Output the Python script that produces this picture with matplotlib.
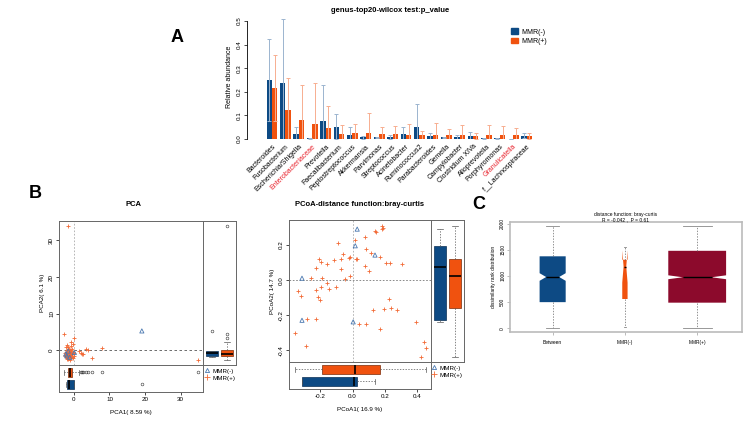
import numpy as np
import matplotlib
matplotlib.use("Agg")
import matplotlib.pyplot as plt
from matplotlib.lines import Line2D
from matplotlib.patches import Patch

plt.rcParams['font.family'] = ['Liberation Sans', 'DejaVu Sans']

W, H = 753, 424
BLUE = '#0d4a84'
ORANGE = '#f0520f'
CRIMSON = '#8c0a2c'
PT_BLUE = '#4a78b0'
PT_ORANGE = '#f26a36'

# ---- panel A data: genus mean and mean+sd (top of error bar) ----
genera = ['Bacteroides', 'Fusobacterium', 'Escherichia/Shigella', 'Enterobacteriaceae',
          'Prevotella', 'Faecalibacterium', 'Peptostreptococcus', 'Akkermansia',
          'Parvimonas', 'Streptococcus', 'Acinetobacter', 'Ruminococcus2',
          'Parabacteroides', 'Gemella', 'Campylobacter', 'Clostridium XIVa',
          'Alloprevotella', 'Porphyromonas', 'Granulicatella', 'f__Lachnospiraceae']
red_labels = ['Enterobacteriaceae', 'Granulicatella']
neg_mean = [0.251, 0.237, 0.023, 0.003, 0.075, 0.052, 0.017, 0.007, 0.007, 0.008,
            0.021, 0.052, 0.011, 0.007, 0.007, 0.014, 0.003, 0.004, 0.001, 0.014]
neg_upper = [0.424, 0.507, 0.052, 0.004, 0.227, 0.104, 0.049, 0.013, 0.010, 0.017,
             0.052, 0.148, 0.025, 0.010, 0.018, 0.031, 0.005, 0.006, 0.002, 0.025]
pos_mean = [0.215, 0.124, 0.079, 0.063, 0.048, 0.023, 0.027, 0.025, 0.021, 0.021,
            0.018, 0.015, 0.017, 0.017, 0.017, 0.013, 0.015, 0.015, 0.015, 0.013]
pos_upper = [0.355, 0.258, 0.228, 0.238, 0.139, 0.059, 0.063, 0.111, 0.052, 0.055,
             0.065, 0.034, 0.068, 0.044, 0.059, 0.025, 0.059, 0.056, 0.048, 0.025]

# ---- panel B PCA scores ----
pca_neg_x = [-2.3, -2.0, -1.6, -1.2, 0.1, 19.1]
pca_neg_y = [-1.0, -1.5, -0.2, -1.9, -0.6, 5.3]
pca_pos_x = [-1.6, -2.7, 0.1, -0.9, -1.9, 1.5, 1.9, 2.2, 2.6, 3.3, 4.0, 5.2, 7.9, 34.8,
             -2.6, -2.4, -2.3, -2.2, -2.1, -2.0, -2.0, -1.9, -1.9, -1.8, -1.8, -1.8,
             -1.7, -1.7, -1.6, -1.6, -1.5, -1.5, -1.4, -1.4, -1.3, -1.3, -1.2, -1.2,
             -1.1, -1.1, -1.0, -1.0, -0.9, -0.9, -0.8, -0.8, -0.7, -0.6, -0.5, -0.4,
             -0.3, -0.2, -0.1, 0.0, -2.5, -1.9, -1.4, -1.1, -0.6, -2.2]
pca_pos_y = [33.9, 4.4, 3.5, 2.4, 1.4, -0.3, -0.8, -0.9, -1.1, 0.3, 0.1, -2.2, 0.6, -2.6,
             -0.7, -1.2, 0.8, -0.4, -1.8, -2.3, -1.0, -0.9, 0.0, -1.5, 0.3, -2.0,
             -0.6, -1.3, 0.9, -2.4, -0.2, -1.7, -0.8, 0.5, -1.1, -2.1, -0.5, -1.6,
             0.1, -0.9, -2.5, -1.4, -0.3, 1.2, -1.9, -0.7, -1.2, 0.4, -1.0, -2.2,
             -0.5, 1.6, -1.5, -0.8, -1.6, -2.2, -1.9, -1.2, -1.7, -1.3]

# ---- panel B PCoA scores ----
pcoa_neg_x = [0.029, 0.017, 0.140, -0.315, -0.315, 0.004]
pcoa_neg_y = [0.291, 0.196, 0.143, 0.011, -0.229, -0.238]
pcoa_pos_x = [0.181, 0.188, 0.183, 0.146, 0.140, 0.077, 0.015, -0.090, 0.085, 0.113,
              0.171, -0.017, -0.023, -0.058, 0.029, 0.021, -0.075, -0.117, -0.208, -0.194,
              -0.158, -0.229, -0.069, 0.077, 0.102, 0.208, 0.233, 0.306, -0.188, -0.256,
              -0.044, -0.017, -0.158, -0.194, -0.104, -0.146, -0.340, -0.319, -0.229, -0.215,
              -0.200, 0.229, 0.196, 0.240, 0.129, 0.279, 0.394, -0.360, -0.225, -0.281,
              0.040, 0.081, 0.171, -0.288, 0.448, 0.458, 0.427]
pcoa_pos_y = [0.310, 0.299, 0.291, 0.276, 0.280, 0.244, 0.229, 0.210, 0.175, 0.152,
              0.133, 0.133, 0.128, 0.147, 0.120, 0.118, 0.118, 0.114, 0.122, 0.105,
              0.090, 0.072, 0.061, 0.080, 0.051, 0.095, 0.095, 0.090, 0.015, 0.010,
              0.004, 0.023, -0.015, -0.042, -0.042, -0.051, -0.063, -0.090, -0.057, -0.095,
              -0.114, -0.110, -0.162, -0.158, -0.168, -0.171, -0.238, -0.299, -0.219, -0.223,
              -0.248, -0.248, -0.276, -0.377, -0.352, -0.385, -0.438]

# ---- panel C ANOSIM rank boxplot summary ----
anosim_groups = ['Between', 'MMR(-)', 'MMR(+)']
anosim_n = [360, 15, 1770]
anosim_med = [980, 1180, 975]
anosim_q1 = [500, 560, 490]
anosim_q3 = [1375, 1310, 1480]
anosim_lo = [0, 20, 0]
anosim_hi = [1945, 1550, 1950]


def box(x0, y0, x1, y1):
    return [x0 / W, 1 - y1 / H, (x1 - x0) / W, (y1 - y0) / H]


def fivenum(v):
    v = np.sort(np.asarray(v, dtype=float))
    n = len(v)
    n4 = np.floor((n + 3) / 2) / 2
    d = np.array([1, n4, (n + 1) / 2, n + 1 - n4, n]) - 1
    return 0.5 * (v[np.floor(d).astype(int)] + v[np.ceil(d).astype(int)])


def rstats(v):
    v = np.asarray(v, dtype=float)
    _, q1, med, q3, _ = fivenum(v)
    iqr = q3 - q1
    keep = (v >= q1 - 1.5 * iqr) & (v <= q3 + 1.5 * iqr)
    return dict(med=med, q1=q1, q3=q3, whislo=v[keep].min(), whishi=v[keep].max(),
                fliers=v[~keep])


def margin_box(ax, neg, pos, orientation):
    stats = [rstats(neg), rstats(pos)]
    res = ax.bxp(stats, positions=[1, 2], widths=0.8, orientation=orientation,
                 patch_artist=True,
                 medianprops=dict(color='black', lw=1.2),
                 whiskerprops=dict(color='#555555', lw=0.5, ls=(0, (2, 2))),
                 capprops=dict(color='#555555', lw=0.5),
                 flierprops=dict(marker='o', mfc='none', mec='#333333', ms=2, mew=0.4),
                 boxprops=dict(lw=0.5))
    for patch, fc, ec in zip(res['boxes'], [BLUE, ORANGE], ['#0a2f55', '#7a2a08']):
        patch.set_facecolor(fc)
        patch.set_edgecolor(ec)


def frame(ax, color='#666666'):
    for s in ax.spines.values():
        s.set_color(color)
        s.set_linewidth(0.7)


fig = plt.figure(figsize=(W / 100, H / 100), dpi=100)

# ================= Panel A =================
axA = fig.add_axes(box(247, 14, 545, 139))
x = np.arange(len(genera))
neg_sd = np.array(neg_upper) - np.array(neg_mean)
pos_sd = np.array(pos_upper) - np.array(pos_mean)
axA.bar(x - 0.2, neg_mean, 0.4, color=BLUE, label='MMR(-)', zorder=2)
axA.bar(x + 0.2, pos_mean, 0.4, color=ORANGE, label='MMR(+)', zorder=2)
axA.errorbar(x - 0.2, neg_mean, yerr=neg_sd, fmt='none', ecolor='#9bb4cf',
             elinewidth=0.7, capsize=1.6, capthick=0.7, zorder=3)
axA.errorbar(x + 0.2, pos_mean, yerr=pos_sd, fmt='none', ecolor='#f7ae90',
             elinewidth=0.7, capsize=1.6, capthick=0.7, zorder=3)
axA.set_xlim(-1.87, 20.37)
axA.set_ylim(0, 0.53)
for s in ['top', 'right', 'bottom']:
    axA.spines[s].set_visible(False)
axA.spines['left'].set_bounds(0, 0.5)
axA.spines['left'].set_linewidth(0.6)
axA.set_yticks([0, 0.1, 0.2, 0.3, 0.4, 0.5])
axA.set_yticklabels(['0.0', '0.1', '0.2', '0.3', '0.4', '0.5'], rotation=90, va='center')
axA.tick_params(axis='y', labelsize=4.5, length=2, width=0.5, pad=1.5)
axA.set_xticks(x)
axA.set_xticklabels(genera, rotation=45, ha='right', rotation_mode='anchor')
axA.tick_params(axis='x', labelsize=5, length=0, pad=3)
for lab in axA.get_xticklabels():
    if lab.get_text() in red_labels:
        lab.set_color('#e8202a')
axA.set_ylabel('Relative abundance', fontsize=5, labelpad=3)
fig.text(390 / W, 1 - 11 / H, 'genus-top20-wilcox test:p_value', ha='center',
         va='center', fontsize=5.5, fontweight='bold')
axA.legend(handles=[Patch(color=BLUE, label='MMR(-)'), Patch(color=ORANGE, label='MMR(+)')],
           loc='upper left', bbox_to_anchor=(505 / W, 1 - 22 / H),
           bbox_transform=fig.transFigure, frameon=False, fontsize=5,
           handlelength=0.9, handleheight=0.9, handletextpad=0.5, labelspacing=0.3)

# ================= Panel B: PCA =================
pca_main = fig.add_axes(box(59, 221, 203, 365))
pca_right = fig.add_axes(box(203, 221, 236, 365))
pca_bot = fig.add_axes(box(59, 365, 203, 392))
pca_main.axhline(0, color='#555555', lw=0.6, ls=(0, (3, 3)), zorder=1)
pca_main.axvline(0, color='#aaaaaa', lw=0.6, ls=(0, (2, 2)), zorder=1)
pca_main.scatter(pca_pos_x, pca_pos_y, marker='+', s=12, c=PT_ORANGE, lw=0.6, zorder=2)
pca_main.scatter(pca_neg_x, pca_neg_y, marker='^', s=9, facecolors='none',
                 edgecolors=PT_BLUE, lw=0.6, zorder=3)
pca_main.set_xlim(-4.2, 36.3)
pca_main.set_ylim(-4.0, 35.3)
pca_main.set_xticks([])
pca_main.set_yticks([0, 10, 20, 30])
pca_main.set_yticklabels(['0', '10', '20', '30'], rotation=90, va='center')
pca_main.tick_params(axis='y', labelsize=4.5, length=2, width=0.5, pad=1.5)
pca_main.set_ylabel('PCA2( 6.1 %)', fontsize=4.5, labelpad=3)
margin_box(pca_right, pca_neg_y, pca_pos_y, 'vertical')
pca_right.set_ylim(-4.0, 35.3)
pca_right.set_xlim(0.4, 2.6)
pca_right.set_xticks([])
pca_right.set_yticks([])
margin_box(pca_bot, pca_neg_x, pca_pos_x, 'horizontal')
pca_bot.set_xlim(-4.2, 36.3)
pca_bot.set_ylim(0.36, 2.61)
pca_bot.set_yticks([])
pca_bot.set_xticks([0, 10, 20, 30])
pca_bot.tick_params(axis='x', labelsize=4.5, length=2, width=0.5, pad=1.5)
pca_bot.set_xlabel('PCA1( 8.59 %)', fontsize=4.5, labelpad=6)
for a in (pca_main, pca_right, pca_bot):
    frame(a)
fig.text(133 / W, 1 - 205 / H, 'PCA', ha='center', va='center', fontsize=5.5,
         fontweight='bold')

# ================= Panel B: PCoA =================
pc_main = fig.add_axes(box(289, 220, 431, 362))
pc_right = fig.add_axes(box(431, 220, 464, 362))
pc_bot = fig.add_axes(box(289, 362, 431, 389))
pc_main.axhline(0, color='#777777', lw=0.6, ls=(0, (2, 2)), zorder=1)
pc_main.axvline(0, color='#aaaaaa', lw=0.6, ls=(0, (2, 2)), zorder=1)
pc_main.scatter(pcoa_pos_x, pcoa_pos_y, marker='+', s=12, c=PT_ORANGE, lw=0.6, zorder=2)
pc_main.scatter(pcoa_neg_x, pcoa_neg_y, marker='^', s=9, facecolors='none',
                edgecolors=PT_BLUE, lw=0.6, zorder=3)
pc_main.set_xlim(-0.396, 0.489)
pc_main.set_ylim(-0.467, 0.343)
pc_main.set_xticks([])
pc_main.set_yticks([-0.4, -0.2, 0.0, 0.2])
pc_main.set_yticklabels(['-0.4', '-0.2', '0.0', '0.2'], rotation=90, va='center')
pc_main.tick_params(axis='y', labelsize=4.5, length=2, width=0.5, pad=1.5)
pc_main.set_ylabel('PCoA2( 14.7 %)', fontsize=4.5, labelpad=3)
margin_box(pc_right, pcoa_neg_y, pcoa_pos_y, 'vertical')
pc_right.set_ylim(-0.467, 0.343)
pc_right.set_xlim(0.4, 2.6)
pc_right.set_xticks([])
pc_right.set_yticks([])
margin_box(pc_bot, pcoa_neg_x, pcoa_pos_x, 'horizontal')
pc_bot.set_xlim(-0.396, 0.489)
pc_bot.set_ylim(0.36, 2.61)
pc_bot.set_yticks([])
pc_bot.set_xticks([-0.2, 0.0, 0.2, 0.4])
pc_bot.set_xticklabels(['-0.2', '0.0', '0.2', '0.4'])
pc_bot.tick_params(axis='x', labelsize=4.5, length=2, width=0.5, pad=1.5)
pc_bot.set_xlabel('PCoA1( 16.9 %)', fontsize=4.5, labelpad=6)
for a in (pc_main, pc_right, pc_bot):
    frame(a)
fig.text(360 / W, 1 - 204 / H, 'PCoA-distance function:bray-curtis', ha='center',
         va='center', fontsize=5.5, fontweight='bold')

leg_handles = [Line2D([], [], marker='^', ls='none', mfc='none', mec=PT_BLUE, ms=3, mew=0.6,
                      label='MMR(-)'),
               Line2D([], [], marker='+', ls='none', color=PT_ORANGE, ms=4, mew=0.6,
                      label='MMR(+)')]
for lx, ly in [(203, 367), (430, 364)]:
    fig.legend(handles=leg_handles, loc='upper left', bbox_to_anchor=(lx / W, 1 - ly / H),
               frameon=False, fontsize=4.5, handlelength=1, handletextpad=0.3,
               labelspacing=0.25, borderaxespad=0, borderpad=0.2)

# ================= Panel C =================
axC = fig.add_axes(box(510, 222, 742, 332))
nmax = max(anosim_n)
stats = []
for i in range(3):
    iqr = anosim_q3[i] - anosim_q1[i]
    half = 1.58 * iqr / np.sqrt(anosim_n[i])
    stats.append(dict(med=anosim_med[i], q1=anosim_q1[i], q3=anosim_q3[i],
                      whislo=anosim_lo[i], whishi=anosim_hi[i], fliers=[],
                      cilo=anosim_med[i] - half, cihi=anosim_med[i] + half))
widths = [0.8 * np.sqrt(n / nmax) for n in anosim_n]
res = axC.bxp(stats, positions=[1, 2, 3], widths=widths, shownotches=True,
              patch_artist=True,
              medianprops=dict(color='black', lw=1.0),
              whiskerprops=dict(color='#666666', lw=0.5, ls=(0, (2, 2))),
              capprops=dict(color='#888888', lw=0.6),
              boxprops=dict(lw=0))
for patch, fc in zip(res['boxes'], [BLUE, ORANGE, CRIMSON]):
    patch.set_facecolor(fc)
    patch.set_edgecolor(fc)
for cap, w in zip(res['caps'], np.repeat(widths, 2)):
    pass
axC.set_xlim(0.41, 3.62)
axC.set_ylim(-70, 2030)
axC.set_xticks([1, 2, 3])
axC.set_xticklabels(anosim_groups)
axC.set_yticks([0, 500, 1000, 1500, 2000])
axC.set_yticklabels(['0', '500', '1000', '1500', '2000'], rotation=90, va='center')
axC.tick_params(axis='both', labelsize=3.5, length=2, width=0.4, pad=1.5,
                color='#888888')
axC.tick_params(axis='x', pad=4)
axC.set_ylabel('dissimilarity rank distribution', fontsize=3.5, labelpad=3)
frame(axC, '#bbbbbb')
for s in axC.spines.values():
    s.set_linewidth(1.2)
fig.text(626 / W, 1 - 214 / H, 'distance function: bray-curtis', ha='center',
         va='center', fontsize=3.5)
fig.text(626 / W, 1 - 219.5 / H, 'R = -0.042 ,  P = 0.61', ha='center',
         va='center', fontsize=3.5)

# panel letters
for txt, px, py in [('A', 177, 38), ('B', 35, 193), ('C', 479, 205)]:
    fig.text(px / W, 1 - py / H, txt, ha='center', va='center', fontsize=13,
             fontweight='bold')

fig.savefig('out.png', dpi=100)
